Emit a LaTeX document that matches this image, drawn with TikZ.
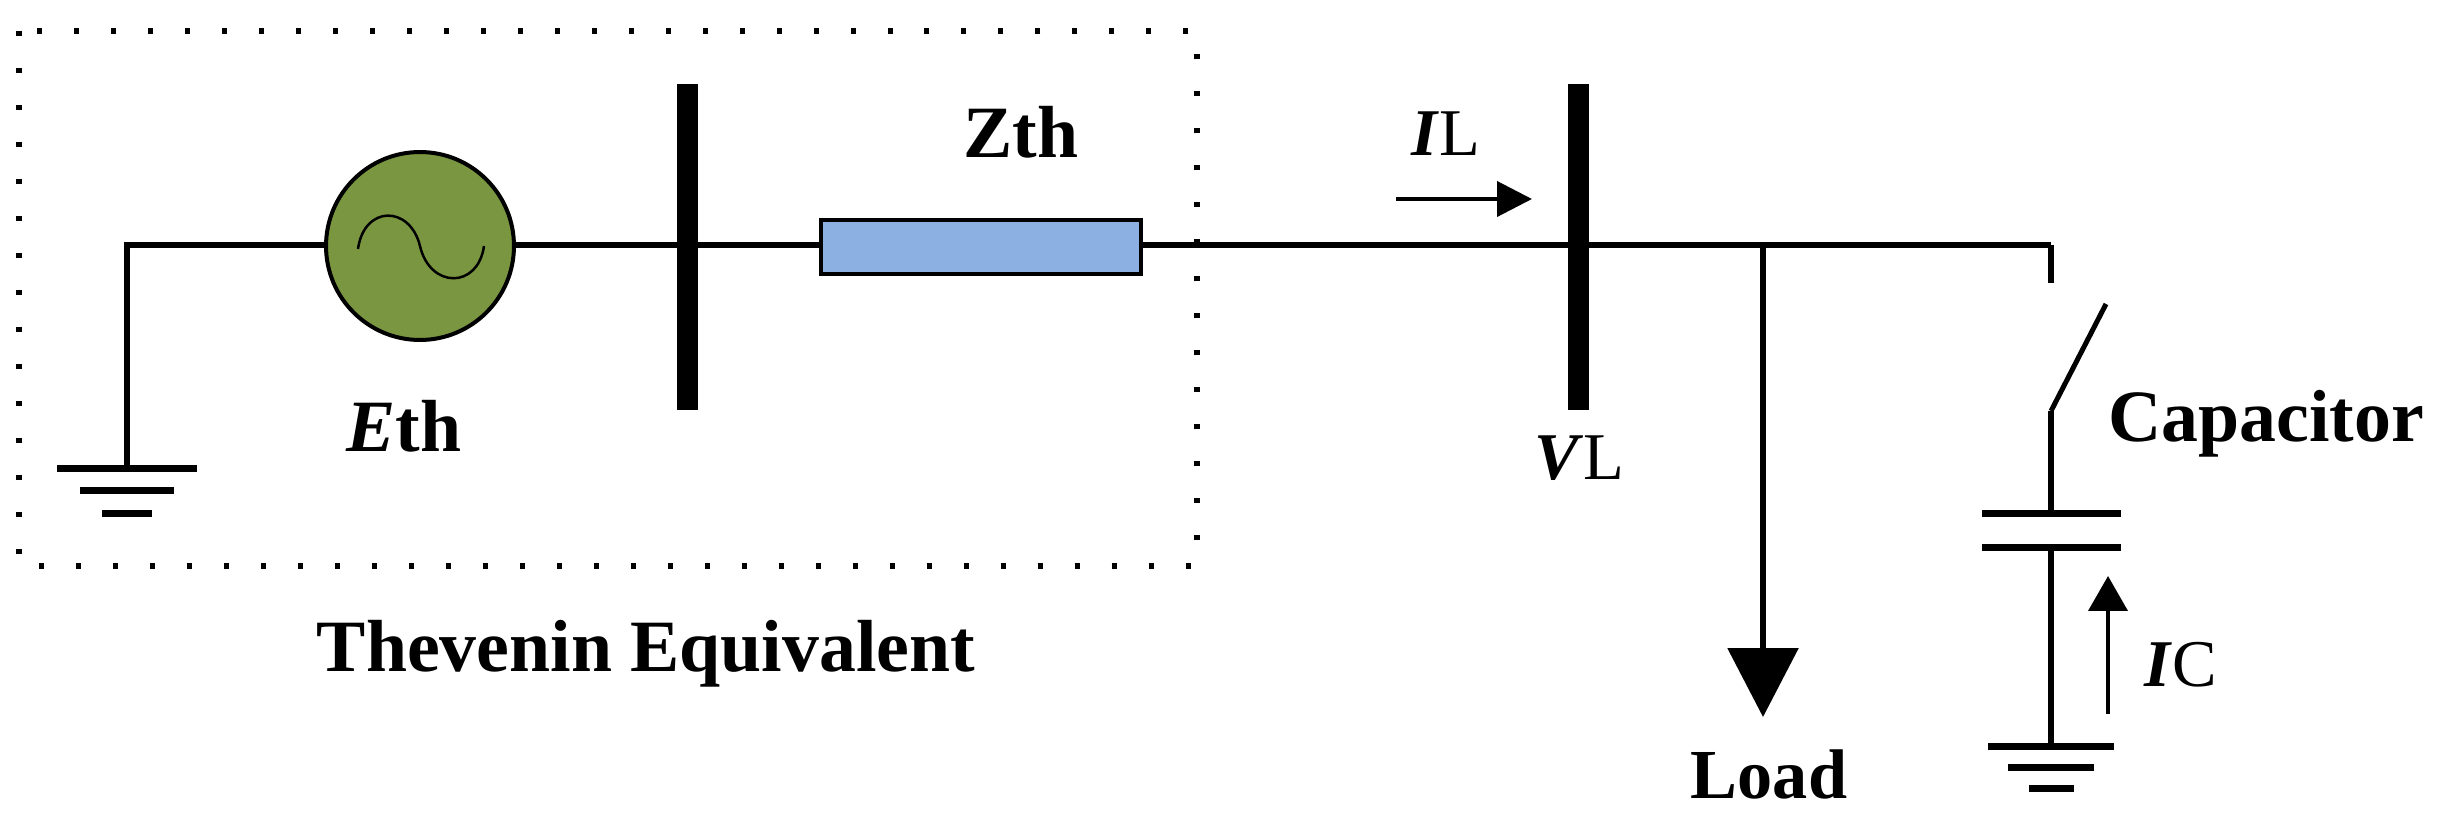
\documentclass[tikz,border=0pt]{standalone}
\usepackage{fontspec}
\setmainfont{Liberation Serif}
\usetikzlibrary{arrows.meta}
\definecolor{srcgreen}{HTML}{7A9640}
\definecolor{zthblue}{HTML}{8DB0E2}
\tikzset{
  wire/.style={line width=.12cm},
  lbl/.style={font=\fontsize{42}{42}\selectfont\bfseries,anchor=base,inner sep=0pt},
  lblsmall/.style={font=\fontsize{38}{38}\selectfont\bfseries,anchor=base,inner sep=0pt},
  plate/.style={fill=black,inner sep=0pt,outer sep=0pt,minimum height=.14cm},
  bus/.style={fill=black,inner sep=0pt,outer sep=0pt,minimum width=.42cm,minimum height=6.52cm}
}

\begin{document}
\begin{tikzpicture}
  [x=.02cm,y=-.02cm]
  \useasboundingbox (0,0) rectangle (2444,821);

  \fill[white] (0,0) rectangle (2444,821);

  \coordinate (box1) at (19,31);
  \coordinate (box2) at (1197,566);
  \draw[line width=.12cm,dash pattern=on .1cm off .64cm] (box1) rectangle (box2);

  \node[circle,draw,fill=srcgreen,line width=.08cm,inner sep=0pt,minimum size=3.76cm] (src) at (420,246) {};
  \node[rectangle,draw,fill=zthblue,line width=.08cm,inner sep=0pt,minimum width=6.42cm,minimum height=1.1cm] (zth) at (981,247) {};
  \node[bus] (bus1) at (687,247) {};
  \node[bus] (bus2) at (1578,247) {};

  \coordinate (c1) at (127,245);
  \coordinate (c2) at (2051,245);
  \coordinate (j1) at (1763,245);
  \coordinate (loadtip) at (1763,717);

  % left ground
  \node[plate,minimum width=2.8cm] (g1) at (127,468) {};
  \node[plate,minimum width=1.9cm] (g2) at (127,490) {};
  \node[plate,minimum width=1cm] (g3) at (127,513) {};

  \draw[wire] (g1) -- (c1) -- (c1 -| src.west);
  \draw[wire] (c1 -| src.east) -- (c1 -| zth.west);
  \draw[wire] (c1 -| zth.east) -- (c2);
  \draw[wire,-{Triangle[length=1.38cm,width=1.4cm]}] (j1) -- (loadtip);

  \draw[line width=.05cm] (358,249) .. controls (364,205) and (410,205) .. (420,246)
    .. controls (430,289) and (478,289) .. (484,246);

  % switch and capacitor
  \coordinate (sw1) at (2051,283);
  \coordinate (sw2) at (2106,304);
  \coordinate (sw3) at (2051,411);
  \node[plate,minimum width=2.78cm] (cap1) at (2051,513) {};
  \node[plate,minimum width=2.78cm] (cap2) at (2051,547) {};
  \node[plate,minimum width=2.52cm] (g4) at (2051,746) {};
  \node[plate,minimum width=1.72cm] (g5) at (2051,767) {};
  \node[plate,minimum width=.9cm] (g6) at (2051,788) {};

  \draw[wire] (c2) -- (sw1);
  \draw[line width=.1cm] (sw2) -- (sw3);
  \draw[wire] (sw3) -- (cap1);
  \draw[wire] (cap2) -- (g4);

  % current arrows
  \coordinate (il1) at (1396,199);
  \coordinate (il2) at (1532,199);
  \coordinate (ic1) at (2108,714);
  \coordinate (ic2) at (2108,576);
  \draw[line width=.08cm,-{Triangle[length=.7cm,width=.7cm]}] (il1) -- (il2);
  \draw[line width=.08cm,-{Triangle[length=.7cm,width=.78cm]}] (ic1) -- (ic2);

  \node[lbl] (lzth) at (1021,157) {Zth};
  \node[lbl] (leth) at (404,451) {\textit{E}th};
  \node[lbl] (lthev) at (646,671) {Thevenin Equivalent};
  \node[lblsmall] (lil) at (1446,155) {\textit{I}\textmd{L}};
  \node[lblsmall] (lvl) at (1579,479) {\textit{V}\textmd{L}};
  \node[lbl] (lcap) at (2266,441) {Capacitor};
  \node[lblsmall,font=\fontsize{40}{40}\selectfont\bfseries] (lload) at (1769,798) {Load};
  \node[lblsmall] (lic) at (2181,686) {\textit{I}\textmd{C}};
\end{tikzpicture}
\end{document}
